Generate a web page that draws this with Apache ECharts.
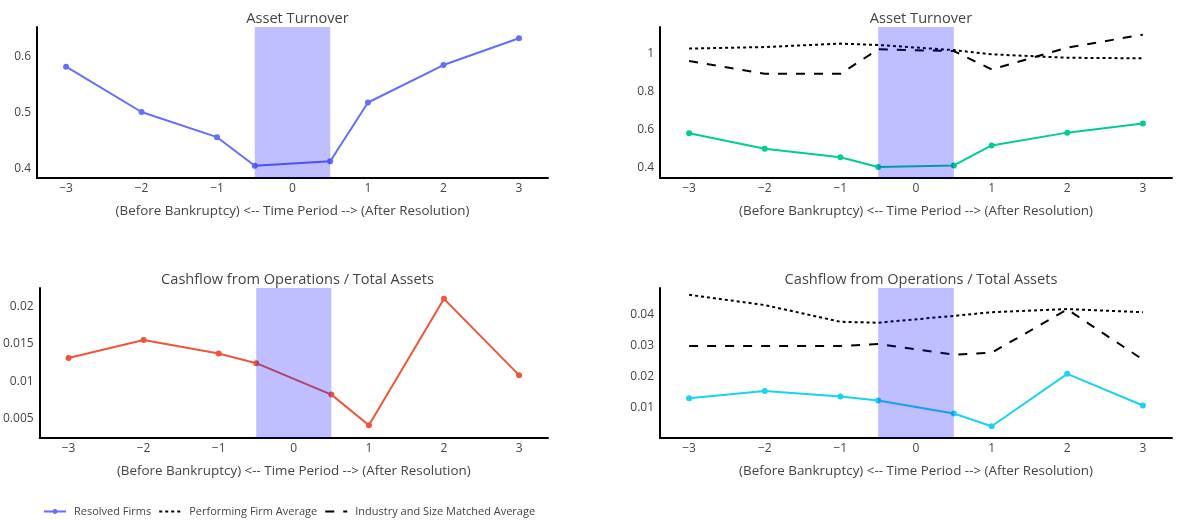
<!DOCTYPE html>
<html>
<head>
<meta charset="utf-8">
<script src="https://cdn.jsdelivr.net/npm/echarts@6/dist/echarts.min.js"></script>
<style>
html,body{margin:0;padding:0;background:#fff;}
#chart{width:1179px;height:520px;}
</style>
</head>
<body>
<div id="chart"></div>
<script>
// ---- data ----
const periods = [-3, -2, -1, -0.5, 0.5, 1, 2, 3];
const xTicks = [-3, -2, -1, 0, 1, 2, 3];

const turnoverResolved = [0.582, 0.501, 0.456, 0.405, 0.413, 0.518, 0.585, 0.633];
const turnoverPerforming = [1.025, 1.033, 1.051, 1.044, 1.017, 0.995, 0.977, 0.974];
const turnoverIndustry = [0.960, 0.893, 0.893, 1.021, 1.012, 0.916, 1.030, 1.098];

const cfoResolved = [0.0131, 0.0155, 0.0137, 0.0124, 0.0082, 0.0041, 0.0210, 0.0108];
const cfoPerforming = [0.0465, 0.0432, 0.0378, 0.0375, 0.0397, 0.0409, 0.0419, 0.0409];
const cfoIndustry = [0.0300, 0.0300, 0.0300, 0.0306, 0.0272, 0.0278, 0.0418, 0.0256];

const yTicksTurnoverLeft = [0.4, 0.5, 0.6];
const yTicksTurnoverRight = [0.4, 0.6, 0.8, 1];
const yTicksCfoLeft = [0.005, 0.01, 0.015, 0.02];
const yTicksCfoRight = [0.01, 0.02, 0.03, 0.04];

const titles = ['Asset Turnover', 'Asset Turnover', 'Cashflow from Operations / Total Assets', 'Cashflow from Operations / Total Assets'];
const xAxisTitle = '(Before Bankruptcy) <-- Time Period --> (After Resolution)';
const seriesNames = ['Resolved Firms', 'Performing Firm Average', 'Industry and Size Matched Average'];

// ---- helpers ----
const pairs = (ys) => periods.map((x, i) => [x, ys[i]]);
const FONT = '"Open Sans", verdana, arial, sans-serif';
const TXT = '#444';

const grids = [
  {left: 37, top: 27, width: 511, height: 151},
  {left: 660, top: 27, width: 512, height: 151},
  {left: 37, top: 288, width: 511, height: 150},
  {left: 660, top: 288, width: 512, height: 150}
];
const yRanges = [[0.383, 0.653], [0.3475, 1.138], [0.0024, 0.02245], [0.0003, 0.0487]];
const yTickSets = [yTicksTurnoverLeft, yTicksTurnoverRight, yTicksCfoLeft, yTicksCfoRight];
const resolvedColors = ['#636EFA', '#00CC96', '#EF553B', '#19D3F3'];
const resolvedData = [turnoverResolved, turnoverResolved, cfoResolved, cfoResolved];

const fmtX = v => v < 0 ? '\u2212' + Math.abs(v) : String(v);
const fmtY = v => String(parseFloat(v.toPrecision(6)));

const xAxes = grids.map((g, i) => ({
  type: 'value', gridIndex: i, min: -3.385, max: 3.385,
  name: xAxisTitle, nameLocation: 'middle', nameGap: 27,
  nameTextStyle: {color: TXT, fontFamily: FONT, fontSize: 13.4},
  axisLine: {show: true, onZero: false, lineStyle: {color: '#000', width: 2}},
  axisTick: {show: false, customValues: xTicks},
  axisLabel: {customValues: xTicks, formatter: fmtX, color: TXT, fontFamily: FONT, fontSize: 12, margin: 5},
  splitLine: {show: false}
}));
const yAxes = grids.map((g, i) => ({
  type: 'value', gridIndex: i, min: yRanges[i][0], max: yRanges[i][1],
  axisLine: {show: true, onZero: false, lineStyle: {color: '#000', width: 2}},
  axisTick: {show: false, customValues: yTickSets[i]},
  axisLabel: {customValues: yTickSets[i], formatter: fmtY, color: TXT, fontFamily: FONT, fontSize: 12, margin: 6},
  splitLine: {show: false}
}));

const series = [];
// resolved firms series
[0, 2, 1, 3].forEach(i => {
  series.push({
    name: seriesNames[0], type: 'line', xAxisIndex: i, yAxisIndex: i,
    data: pairs(resolvedData[i]), symbol: 'circle', symbolSize: 6,
    lineStyle: {color: resolvedColors[i], width: 2},
    itemStyle: {color: resolvedColors[i]}, z: 2
  });
});
// benchmark series on right panels
const perfData = {1: turnoverPerforming, 3: cfoPerforming};
const indData = {1: turnoverIndustry, 3: cfoIndustry};
[1, 3].forEach(i => {
  series.push({
    name: seriesNames[1], type: 'line', xAxisIndex: i, yAxisIndex: i,
    data: pairs(perfData[i]), symbol: 'none',
    lineStyle: {color: '#000', width: 2, type: [3, 3]},
    itemStyle: {color: '#000'}, z: 2
  });
  series.push({
    name: seriesNames[2], type: 'line', xAxisIndex: i, yAxisIndex: i,
    data: pairs(indData[i]), symbol: 'none',
    lineStyle: {color: '#000', width: 2, type: [9, 9]},
    itemStyle: {color: '#000'}, z: 2
  });
});
// shaded bankruptcy period, drawn above the lines
grids.forEach((g, i) => {
  series.push({
    type: 'line', xAxisIndex: i, yAxisIndex: i, data: [], silent: true, z: 5,
    markArea: {silent: true, z: 10, itemStyle: {color: 'rgba(0,0,255,0.25)'},
      data: [[{xAxis: -0.5}, {xAxis: 0.5}]]}
  });
});

const title = grids.map((g, i) => ({
  text: titles[i], left: g.left + g.width / 2, top: i < 2 ? 6 : 267, textAlign: 'center',
  textStyle: {fontFamily: FONT, fontSize: 14.6, fontWeight: 'normal', color: TXT}
}));

const chart = echarts.init(document.getElementById('chart'), null, {renderer: 'canvas'});
chart.setOption({
  animation: false,
  title: title,
  grid: grids,
  xAxis: xAxes,
  yAxis: yAxes,
  legend: {
    left: 38, top: 501, itemWidth: 22, itemHeight: 6, itemGap: 7,
    textStyle: {fontFamily: FONT, fontSize: 11, color: TXT, padding: [0, 0, 0, 3]},
    data: [
      {name: seriesNames[0]},
      {name: seriesNames[1], itemStyle: {opacity: 0}},
      {name: seriesNames[2], itemStyle: {opacity: 0}}
    ]
  },
  series: series
});
</script>
</body>
</html>
